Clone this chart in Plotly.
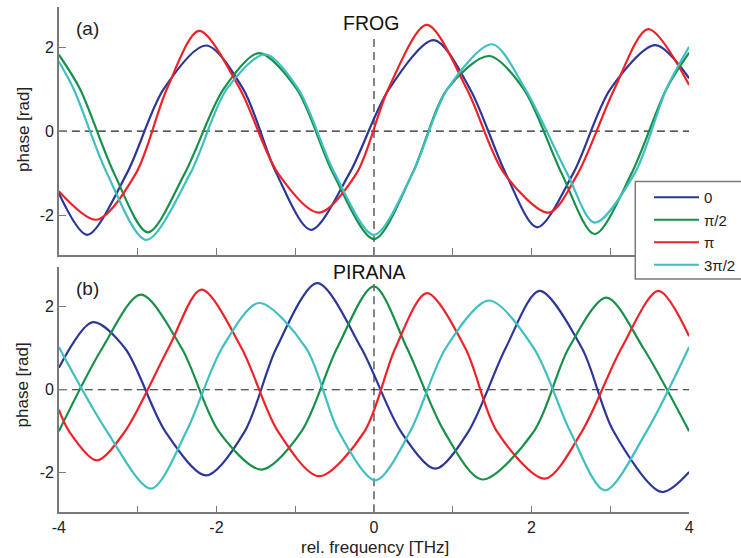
import plotly.graph_objects as go

# ---- data: spectral phase vs. relative frequency --------------------------
# samples at the turning points and where each trace passes +/-1 rad
series_names = ["0", "\u03c0/2", "\u03c0", "3\u03c0/2"]
series_colors = ["#2d3797", "#17904a", "#ee2229", "#3fbfbf"]

# (a) FROG retrieval
frog_x = [
    [-4.0, -3.64, -3.135, -2.67, -2.13, -1.66, -1.24, -0.80, -0.31, 0.19, 0.76, 1.22,
     1.67, 2.07, 2.53, 3.00, 3.57, 4.0],
    [-4.0, -3.73, -3.30, -2.87, -2.40, -1.91, -1.46, -0.98, -0.52, 0.0, 0.49, 0.93,
     1.46, 1.90, 2.38, 2.80, 3.27, 3.71, 4.0],
    [-4.0, -3.52, -3.02, -2.63, -2.22, -1.70, -1.22, -0.70, -0.22, 0.18, 0.67, 1.18,
     1.65, 2.22, 2.59, 3.05, 3.48, 4.0],
    [-4.0, -3.81, -3.39, -2.89, -2.33, -1.87, -1.38, -0.96, -0.50, 0.0, 0.49, 0.93,
     1.50, 1.92, 2.45, 2.80, 3.31, 3.71, 4.0],
]
frog_y = [
    [-1.48, -2.47, -1.0, 1.0, 2.04, 1.0, -1.0, -2.35, -1.0, 1.0, 2.17, 1.0,
     -1.0, -2.29, -1.0, 1.0, 2.05, 1.26],
    [1.82, 1.0, -1.0, -2.41, -1.0, 1.0, 1.86, 1.0, -1.0, -2.57, -1.0, 1.0,
     1.79, 1.0, -1.0, -2.45, -1.0, 1.0, 1.87],
    [-1.43, -2.11, -1.0, 1.0, 2.39, 1.0, -1.0, -1.94, -1.0, 1.0, 2.53, 1.0,
     -1.0, -1.94, -1.0, 1.0, 2.43, 1.10],
    [1.66, 1.0, -1.0, -2.59, -1.0, 1.0, 1.83, 1.0, -1.0, -2.47, -1.0, 1.0,
     2.07, 1.0, -1.0, -2.18, -1.0, 1.0, 2.01],
]

# (b) PIRANA retrieval
pirana_x = [
    [-4.0, -3.57, -3.16, -2.65, -2.13, -1.64, -1.24, -0.72, -0.16, 0.34, 0.78, 1.20,
     1.67, 2.10, 2.64, 3.04, 3.65, 4.0],
    [-4.0, -3.45, -2.96, -2.44, -1.97, -1.43, -0.92, -0.47, 0.0, 0.42, 0.89, 1.37,
     2.03, 2.47, 2.95, 3.42, 4.0],
    [-4.0, -3.87, -3.52, -3.16, -2.61, -2.19, -1.68, -1.22, -0.70, -0.12, 0.27, 0.67,
     1.16, 1.56, 2.17, 2.64, 3.14, 3.61, 4.0],
    [-4.0, -3.39, -2.83, -2.38, -1.93, -1.46, -0.86, -0.45, 0.02, 0.46, 0.91, 1.46,
     2.03, 2.49, 2.93, 3.46, 4.0],
]
pirana_y = [
    [0.53, 1.63, 1.0, -1.0, -2.06, -1.0, 1.0, 2.57, 1.0, -1.0, -1.90, -1.0,
     1.0, 2.38, 1.0, -1.0, -2.46, -1.98],
    [-1.0, 1.0, 2.29, 1.0, -1.0, -1.92, -1.0, 1.0, 2.49, 1.0, -1.0, -2.16,
     -1.0, 1.0, 2.22, 1.0, -1.0],
    [-0.48, -1.0, -1.70, -1.0, 1.0, 2.41, 1.0, -1.0, -2.08, -1.0, 1.0, 2.33,
     1.0, -1.0, -2.14, -1.0, 1.0, 2.38, 1.29],
    [1.03, -1.0, -2.38, -1.0, 1.0, 2.09, 1.0, -1.0, -2.18, -1.0, 1.0, 2.15,
     1.0, -1.0, -2.42, -1.0, 1.03],
]

x_range = [-4, 4]
y_range = [-2.95, 2.95]
x_tickvals = [-4, -2, 0, 2, 4]
x_ticktext = ["-4", "-2", "0", "2", "4"]
y_tickvals = [-2, 0, 2]
y_ticktext = ["-2", "0", "2"]

# ---- figure ----------------------------------------------------------------
W, H = 741, 558
FONT = "Liberation Sans, Arial, Helvetica, sans-serif"
AXIS_GRAY = "#7a7a7a"
SMOOTH = 0.85

fig = go.Figure()

for i, name in enumerate(series_names):
    fig.add_trace(go.Scatter(
        x=frog_x[i], y=frog_y[i], mode="lines", name=name,
        line=dict(color=series_colors[i], width=2.2, shape="spline", smoothing=SMOOTH),
        xaxis="x", yaxis="y", showlegend=True,
    ))
for i, name in enumerate(series_names):
    fig.add_trace(go.Scatter(
        x=pirana_x[i], y=pirana_y[i], mode="lines", name=name,
        line=dict(color=series_colors[i], width=2.2, shape="spline", smoothing=SMOOTH),
        xaxis="x2", yaxis="y2", showlegend=False,
    ))


def px_x(p):
    return p / W


def px_y(p):
    return 1 - p / H


axis_common = dict(
    showline=True, linecolor=AXIS_GRAY, linewidth=1.5,
    ticks="inside", ticklen=7, tickcolor=AXIS_GRAY, tickwidth=1.3,
    showgrid=False, zeroline=False, automargin=False,
    tickfont=dict(family=FONT, size=16, color="#222222"),
    mirror=False,
)
minor_ticks = dict(dtick=1, tick0=0, ticks="inside", ticklen=7,
                   tickcolor=AXIS_GRAY, tickwidth=1.3)

xdom = [px_x(59), px_x(691)]

fig.update_layout(
    width=W, height=H,
    margin=dict(l=0, r=0, t=0, b=0),
    paper_bgcolor="white", plot_bgcolor="white",
    template="none",
    font=dict(family=FONT, size=16, color="#222222"),
    xaxis=dict(domain=xdom, range=x_range, anchor="y",
               tickmode="array", tickvals=x_tickvals, ticktext=x_ticktext,
               showticklabels=False, minor=minor_ticks, **axis_common),
    yaxis=dict(domain=[px_y(255), px_y(7.3)], range=y_range, anchor="x",
               tickmode="array", tickvals=y_tickvals, ticktext=y_ticktext,
               **axis_common),
    xaxis2=dict(domain=xdom, range=x_range, anchor="y2",
                tickmode="array", tickvals=x_tickvals, ticktext=x_ticktext,
                showticklabels=True, minor=minor_ticks, **axis_common),
    yaxis2=dict(domain=[px_y(512.3), px_y(267.3)], range=y_range, anchor="x2",
                tickmode="array", tickvals=y_tickvals, ticktext=y_ticktext,
                **axis_common),
    legend=dict(
        x=px_x(651), y=px_y(181), xanchor="left", yanchor="top",
        bgcolor="rgba(0,0,0,0)", borderwidth=0,
        font=dict(family=FONT, size=15, color="#222222"),
        itemwidth=45, tracegroupgap=0,
    ),
    showlegend=True,
)

# legend frame, running off the right edge of the figure
fig.add_shape(type="rect", xref="paper", yref="paper",
              x0=px_x(637), x1=px_x(760), y0=px_y(279), y1=px_y(181.5),
              fillcolor="white", line=dict(color=AXIS_GRAY, width=1.5), layer="above")

# zero reference lines
dash = "8px,5px"
for xa, ya, ytop in (("x", "y", 2.25), ("x2", "y2", 2.55)):
    fig.add_shape(type="line", xref=xa, yref=ya, x0=x_range[0], x1=x_range[1], y0=0, y1=0,
                  line=dict(color="#222222", width=1.1, dash=dash), layer="below")
    fig.add_shape(type="line", xref=xa, yref=ya, x0=0, x1=0, y0=y_range[0], y1=ytop,
                  line=dict(color="#222222", width=1.1, dash=dash), layer="below")


def label(text, cx, cy, size, angle=0, color="#222222"):
    fig.add_annotation(text=text, x=px_x(cx), y=px_y(cy), xref="paper", yref="paper",
                       xanchor="center", yanchor="middle", showarrow=False,
                       textangle=angle, font=dict(family=FONT, size=size, color=color))


# panel titles and labels
label("FROG", 372, 23, 19.5, color="#111111")
label("PIRANA", 370, 272, 19.5, color="#111111")
label("(a)", 88, 28.5, 19)
label("(b)", 88, 288.5, 19)

# axis titles
label("phase [rad]", 23, 129, 17, angle=-90)
label("phase [rad]", 23, 384.5, 17, angle=-90)
label("rel. frequency [THz]", 376, 547, 17)

fig.write_html("out.html")
